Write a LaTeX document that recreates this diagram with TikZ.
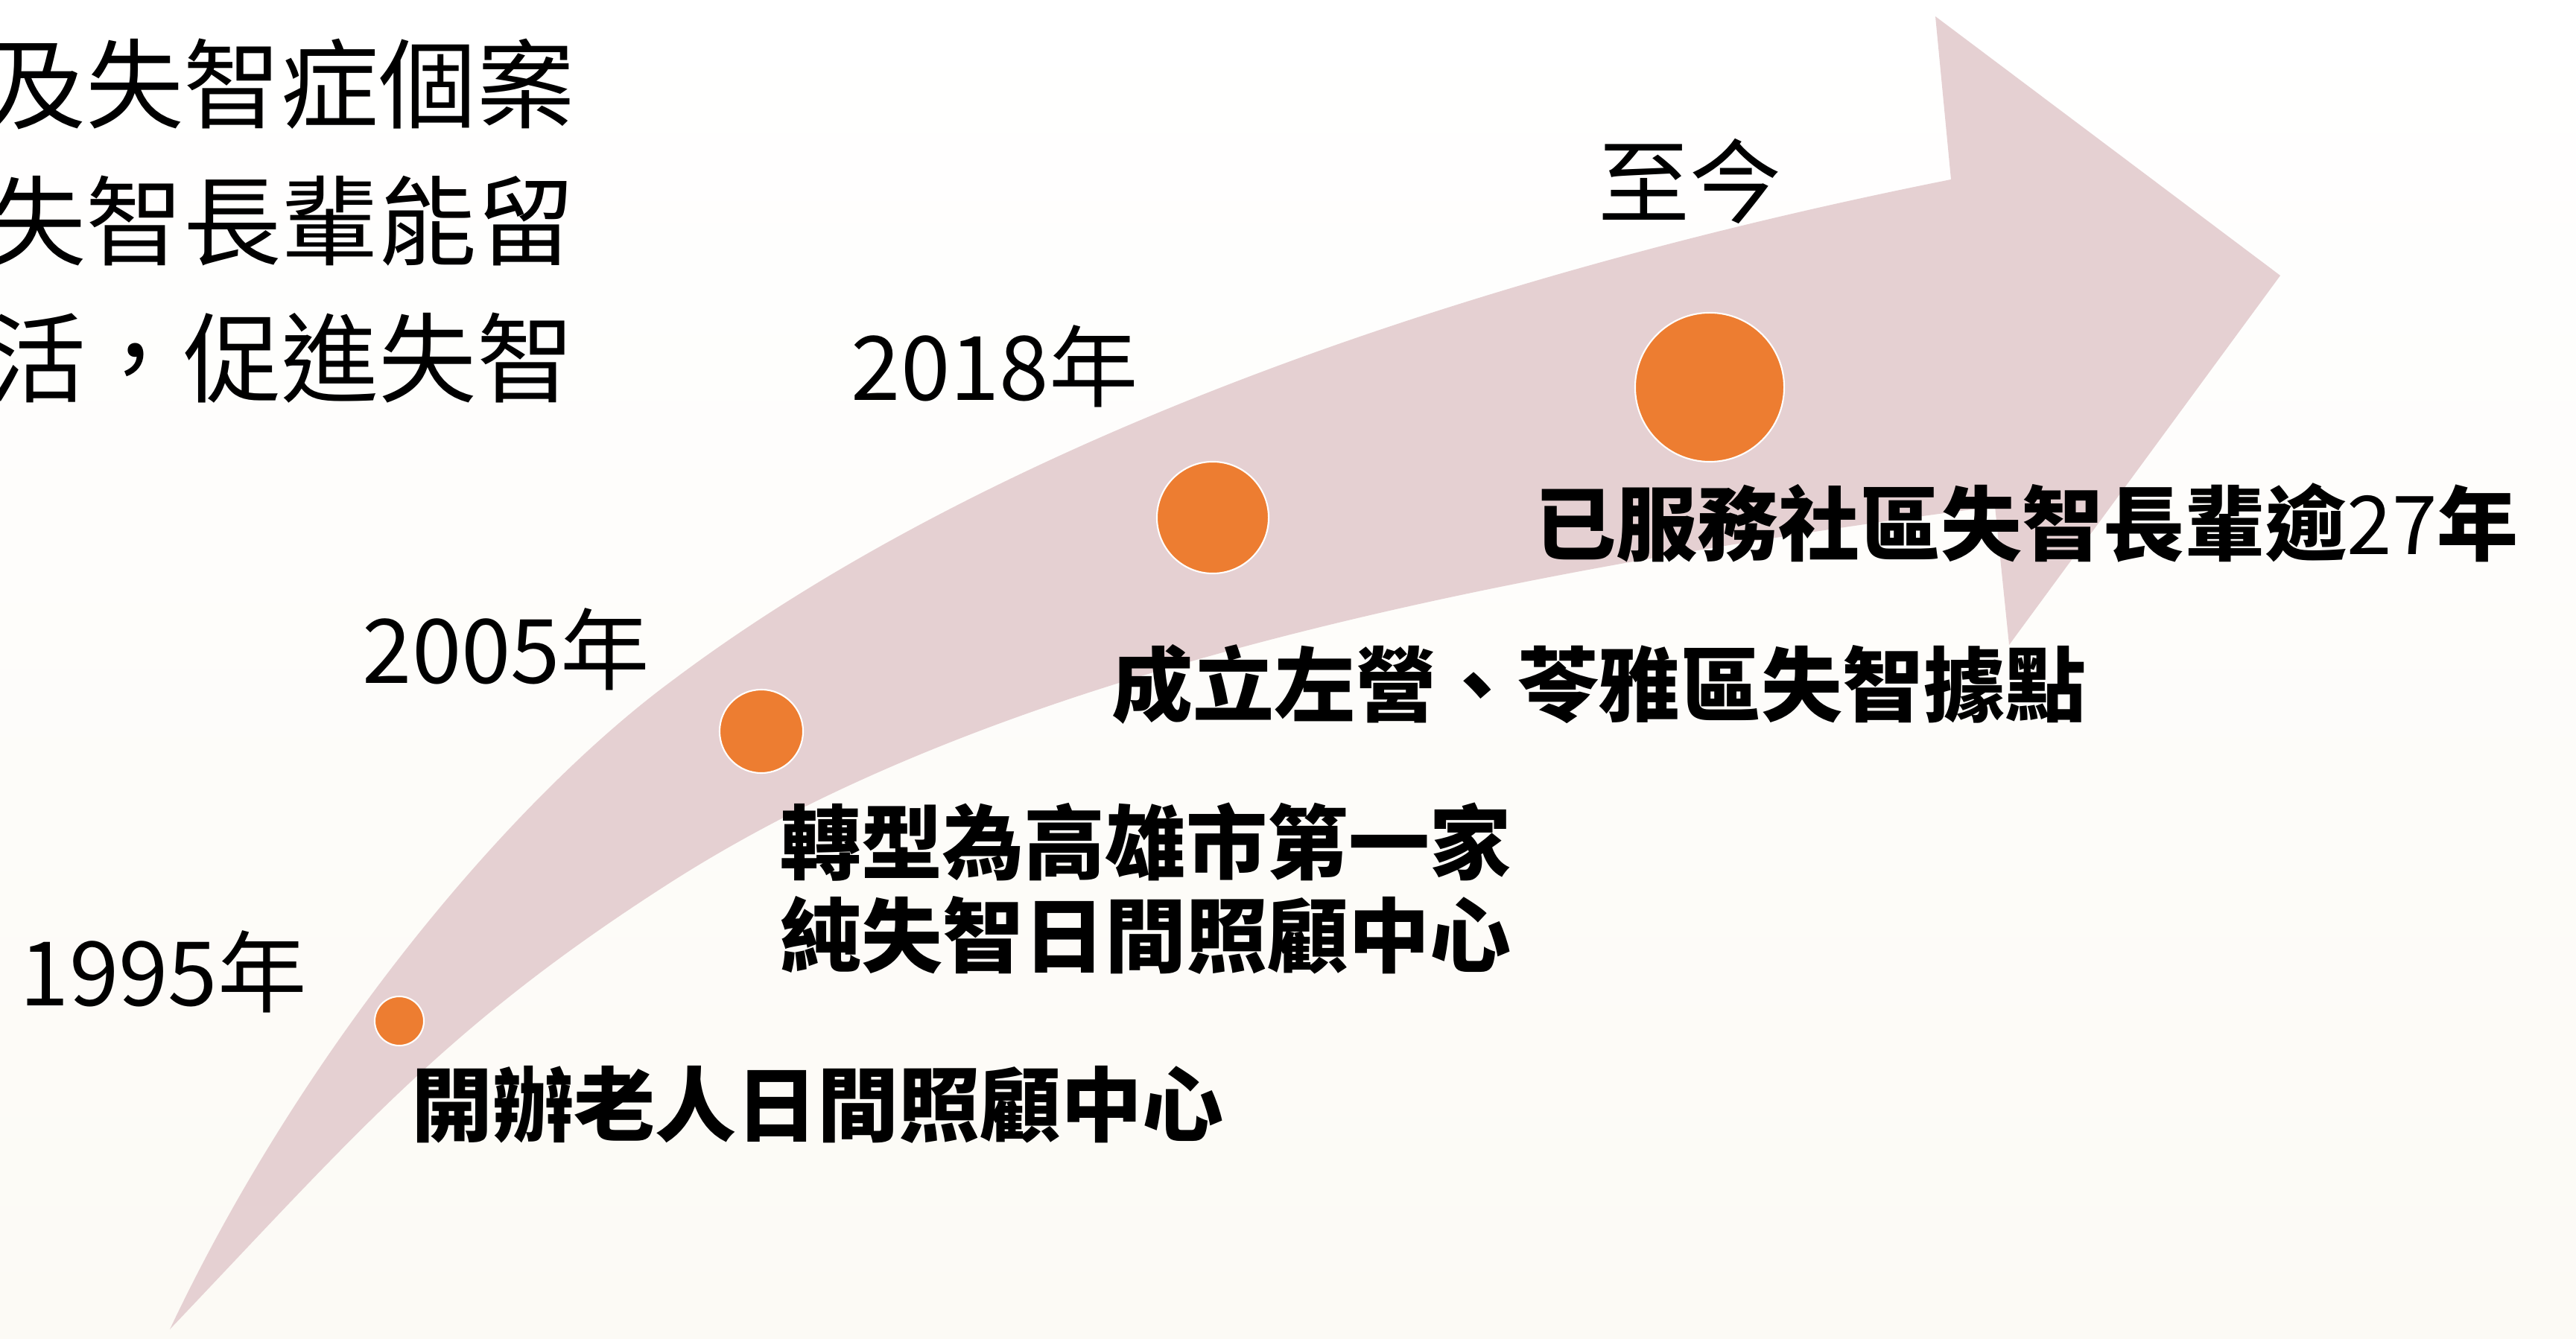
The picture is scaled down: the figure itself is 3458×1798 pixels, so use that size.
\documentclass[tikz,border=0pt]{standalone}
\usepackage{fontspec}
\setmainfont{Noto Sans CJK TC}
\definecolor{arrowpink}{RGB}{229,208,210}
\definecolor{dotorange}{RGB}{237,125,49}
\definecolor{bgbottom}{RGB}{252,250,245}
\begin{document}
\begin{tikzpicture}[x=0.01cm,y=-0.01cm,
  dot/.style={circle, fill=dotorange, draw=white, line width=0.6pt, inner sep=0pt},
  yearlbl/.style={font=\fontsize{34}{40}\selectfont, anchor=base west, inner sep=0pt},
  nowlbl/.style={font=\fontsize{35}{40}\selectfont, anchor=base west, inner sep=0pt},
  eventlbl/.style={font=\fontsize{31}{36}\selectfont\bfseries, anchor=base west, inner sep=0pt},
  introlbl/.style={font=\fontsize{37.3}{42}\selectfont, anchor=base east, inner sep=0pt}]
\useasboundingbox (0,0) rectangle (3458,1798);
\clip (0,0) rectangle (3458,1798);
\fill[top color=white, bottom color=bgbottom] (0,0) rectangle (3458,1798);
% curved arrow
\fill[arrowpink] (228,1785) .. controls (410,1400) and (690,1070) .. (905,912)
  .. controls (1293,621) and (1893,386) .. (2619,241)
  -- (2598,22) -- (3061,370) -- (2697,866) -- (2678,680)
  .. controls (1802,794) and (1260,955) .. (900,1185)
  .. controls (600,1377) and (480,1520) .. (228,1785) -- cycle;
% milestones
\node[dot, minimum size=0.66cm] (d1995) at (536,1371) {};
\node[dot, minimum size=1.12cm] (d2005) at (1022,982) {};
\node[dot, minimum size=1.5cm] (d2018) at (1628,695) {};
\node[dot, minimum size=2.0cm] (dnow) at (2295,520) {};
% intro text (cut off at the left, as in the source)
\node[introlbl] (intro1) at (772,163) {及失智症個案};
\node[introlbl] (intro2) at (772,347) {失智長輩能留};
\node[introlbl] (intro3) at (772,531) {活，促進失智};
% years
\node[yearlbl] (y1995) at (26,1350) {1995年};
\node[yearlbl] (y2005) at (486,917) {2005年};
\node[yearlbl] (y2018) at (1142,538) {2018年};
\node[nowlbl] (ynow) at (2145,291) {至今};
% events
\node[eventlbl] (e1995) at (552,1524) {開辦老人日間照顧中心};
\node[eventlbl] (e2005a) at (1047,1172) {轉型為高雄市第一家};
\node[eventlbl] (e2005b) at (1047,1297) {純失智日間照顧中心};
\node[eventlbl] (e2018) at (1492,960) {成立左營、苓雅區失智據點};
\node[eventlbl] (enow) at (2060,745) {已服務社區失智長輩逾{\mdseries 27}年};
\end{tikzpicture}
\end{document}
